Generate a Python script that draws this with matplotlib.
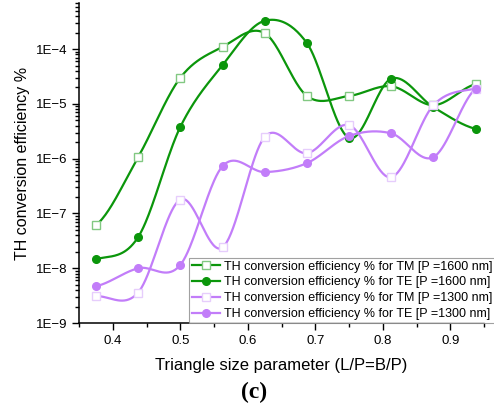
import numpy as np
import matplotlib
matplotlib.use("Agg")
import matplotlib.pyplot as plt
from matplotlib.ticker import FixedLocator, LogLocator, FuncFormatter, NullFormatter

plt.rcParams["font.family"] = ["Liberation Sans", "DejaVu Sans"]

# triangle size parameter L/P
size_param = [0.375, 0.4375, 0.5, 0.5625, 0.625, 0.6875, 0.75, 0.8125, 0.875, 0.9375]

# TH conversion efficiency (%)
tm_1600 = [6.1e-8, 1.07e-6, 3.0e-5, 1.1e-4, 1.96e-4, 1.4e-5, 1.4e-5, 2.1e-5, 9.5e-6, 2.3e-5]
te_1600 = [1.47e-8, 3.7e-8, 3.8e-6, 5.1e-5, 3.3e-4, 1.29e-4, 2.4e-6, 2.9e-5, 8.7e-6, 3.5e-6]
tm_1300 = [3.1e-9, 3.6e-9, 1.8e-7, 2.4e-8, 2.5e-6, 1.26e-6, 4.1e-6, 4.6e-7, 9.5e-6, 1.9e-5]
te_1300 = [4.7e-9, 1.0e-8, 1.15e-8, 7.3e-7, 5.7e-7, 8.3e-7, 2.6e-6, 2.9e-6, 1.07e-6, 1.9e-5]

labels = [
    "TH conversion efficiency % for TM [P =1600 nm]",
    "TH conversion efficiency % for TE [P =1600 nm]",
    "TH conversion efficiency % for TM [P =1300 nm]",
    "TH conversion efficiency % for TE [P =1300 nm]",
]

GREEN = "#0b960b"
VIOLET = "#c27df9"


def smooth_curve(x, y, n=40):
    """Catmull-Rom spline through (x, y), n samples per segment."""
    x = np.asarray(x, float)
    y = np.asarray(y, float)
    m = np.empty_like(y)
    m[1:-1] = (y[2:] - y[:-2]) / 2
    m[0] = (y[1] - y[0]) / 2
    m[-1] = (y[-1] - y[-2]) / 2
    xs, ys = [], []
    for i in range(len(x) - 1):
        t = np.linspace(0, 1, n, endpoint=(i == len(x) - 2))
        h00 = 2 * t ** 3 - 3 * t ** 2 + 1
        h10 = t ** 3 - 2 * t ** 2 + t
        h01 = -2 * t ** 3 + 3 * t ** 2
        h11 = t ** 3 - t ** 2
        xs.append(x[i] + t * (x[i + 1] - x[i]))
        ys.append(h00 * y[i] + h10 * m[i] + h01 * y[i + 1] + h11 * m[i + 1])
    return np.concatenate(xs), np.concatenate(ys)


def main():
    fig = plt.figure(figsize=(4.94, 4.11), dpi=100)
    ax = fig.add_axes([0.16, 0.214, 0.82, 0.779])

    series = [
        (tm_1600, GREEN, "s", "white", "#82c882"),
        (te_1600, GREEN, "o", GREEN, GREEN),
        (tm_1300, VIOLET, "s", "white", "#e6cdfc"),
        (te_1300, VIOLET, "o", VIOLET, VIOLET),
    ]
    for (vals, color, marker, face, edge), label in zip(series, labels):
        xs, ys = smooth_curve(size_param, np.log10(vals))
        ax.plot(xs, 10 ** ys, color=color, lw=1.6, zorder=2)
        ax.plot(size_param, vals, ls="none", marker=marker, ms=5.5,
                mfc=face, mec=edge, mew=1.0, zorder=3)
        ax.plot([], [], color=color, lw=1.6, marker=marker, ms=5.5,
                mfc=face, mec=edge, mew=1.0, label=label)

    ax.set_yscale("log")
    ax.set_xlim(0.35, 0.95)
    ax.set_ylim(1e-9, 7e-4)

    ax.xaxis.set_major_locator(FixedLocator([0.4, 0.5, 0.6, 0.7, 0.8, 0.9]))
    ax.xaxis.set_minor_locator(FixedLocator([0.35, 0.45, 0.55, 0.65, 0.75, 0.85, 0.95]))
    ax.yaxis.set_major_locator(LogLocator(base=10, numticks=20))
    ax.yaxis.set_minor_locator(LogLocator(base=10, subs=np.arange(2, 10), numticks=20))
    ax.yaxis.set_major_formatter(
        FuncFormatter(lambda v, p: "1E\u2212%d" % round(-np.log10(v))))
    ax.yaxis.set_minor_formatter(NullFormatter())

    ax.tick_params(which="major", direction="out", length=5, width=1, labelsize=9.5)
    ax.tick_params(which="minor", direction="out", length=3, width=1)
    for side in ("top", "right"):
        ax.spines[side].set_visible(False)
    for side in ("left", "bottom"):
        ax.spines[side].set_linewidth(1.1)

    ax.set_xlabel("Triangle size parameter (L/P=B/P)", fontsize=12, labelpad=8)
    ax.set_ylabel("TH conversion efficiency %", fontsize=11.5, labelpad=4)

    leg = fig.legend(loc="lower left", bbox_to_anchor=(0.383, 0.214), fontsize=9,
                     frameon=True, fancybox=False, edgecolor="#8a8a8a",
                     handlelength=2.2, handletextpad=0.3, borderpad=0.25,
                     labelspacing=0.3, borderaxespad=0.0)
    leg.get_frame().set_linewidth(0.8)

    fig.text(0.514, 0.046, "(c)", ha="center", va="center", fontsize=17,
             fontweight="bold", family="Liberation Serif")

    fig.savefig("out.png", dpi=100)
    return 0


if __name__ == "__main__":
    main()
